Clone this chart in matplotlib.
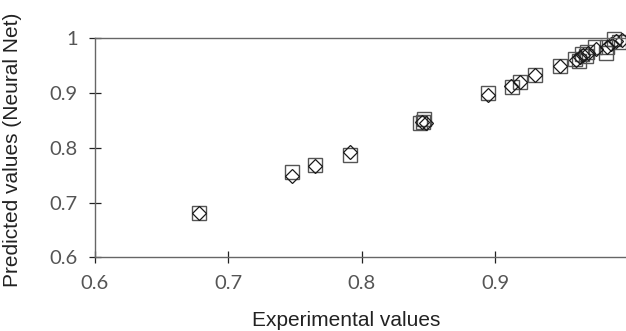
import matplotlib
matplotlib.use("Agg")
import matplotlib.pyplot as plt

# Experimental vs. predicted values, two marker series
sq_exp = [0.678, 0.748, 0.765, 0.791, 0.844, 0.847, 0.846, 0.895, 0.913, 0.919,
          0.930, 0.949, 0.960, 0.963, 0.965, 0.968, 0.969, 0.975, 0.983, 0.984,
          0.989, 0.993]
sq_pred = [0.680, 0.756, 0.768, 0.786, 0.845, 0.852, 0.848, 0.900, 0.911, 0.920,
           0.933, 0.949, 0.962, 0.959, 0.972, 0.968, 0.975, 0.985, 0.974, 0.985,
           0.998, 0.994]

dia_exp = [0.678, 0.748, 0.765, 0.791, 0.845, 0.848, 0.895, 0.912, 0.919, 0.930,
           0.949, 0.961, 0.964, 0.966, 0.970, 0.976, 0.984, 0.987, 0.991, 0.995]
dia_pred = [0.680, 0.749, 0.767, 0.793, 0.847, 0.846, 0.897, 0.913, 0.921, 0.933,
            0.949, 0.961, 0.966, 0.970, 0.974, 0.980, 0.984, 0.990, 0.995, 0.996]

x_ticks = [0.6, 0.7, 0.8, 0.9]
y_ticks = [0.6, 0.7, 0.8, 0.9, 1.0]
y_tick_labels = ["0.6", "0.7", "0.8", "0.9", "1"]

fig = plt.figure(figsize=(6.26, 3.31), dpi=100)
ax = fig.add_axes([0.151, 0.2227, 0.853, 0.6616])

ax.plot(sq_exp, sq_pred, linestyle="none", marker="s", markersize=10,
        markerfacecolor="none", markeredgecolor="#555555", markeredgewidth=1.0,
        clip_on=False)
ax.plot(dia_exp, dia_pred, linestyle="none", marker="D", markersize=7.1,
        markerfacecolor="none", markeredgecolor="#1a1a1a", markeredgewidth=0.9,
        clip_on=False)

ax.set_xlim(0.6, 1.0)
ax.set_ylim(0.6, 1.0)
ax.set_xticks(x_ticks)
ax.set_yticks(y_ticks)
ax.set_yticklabels(y_tick_labels)

for side in ("left", "bottom", "top"):
    ax.spines[side].set_color("#666666")
    ax.spines[side].set_linewidth(1.0)
ax.spines["right"].set_visible(False)

ax.tick_params(direction="inout", length=8.5, width=0.9, color="#222222",
               labelcolor="#555555")
ax.tick_params(axis="x", pad=8.5)
ax.tick_params(axis="y", pad=8)
for lab in ax.get_xticklabels() + ax.get_yticklabels():
    lab.set_fontfamily("Lato")
    lab.set_fontweight("normal")
    lab.set_fontsize(14.5)

ax.set_xlabel("Experimental values", fontsize=15, family="Liberation Sans",
              color="#222222")
ax.set_ylabel("Predicted values (Neural Net)", fontsize=15,
              family="Liberation Sans", color="#222222")
ax.xaxis.set_label_coords(0.471, -0.243)
ax.yaxis.set_label_coords(-0.136, 0.49)

fig.savefig("out.png", dpi=100)
